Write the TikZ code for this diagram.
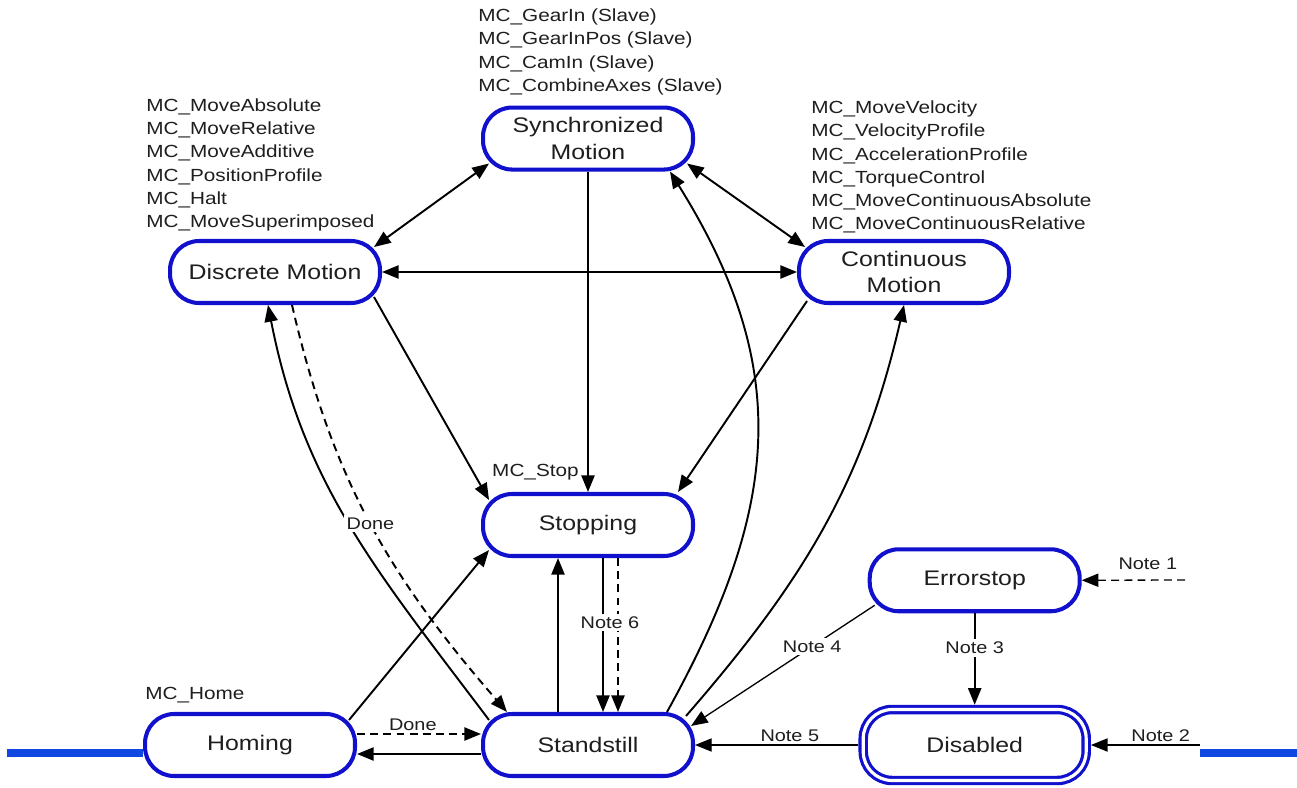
\documentclass[tikz,border=0pt]{standalone}
\usepackage{fontspec}
\setmainfont{Liberation Sans}[FakeStretch=1.18]
\usepackage{tikz}
\usetikzlibrary{arrows.meta,positioning}

\definecolor{stateblue}{RGB}{16,16,205}
\definecolor{railblue}{RGB}{18,72,226}
\definecolor{txt}{RGB}{30,30,30}

\begin{document}
\begin{tikzpicture}[
  x=0.02cm, y=0.02cm,
  state/.style={rectangle, rounded corners=0.58cm, draw=stateblue, line width=2.3pt, fill=white,
    minimum width=4.2cm, minimum height=1.24cm, inner sep=2pt, align=center,
    font=\fontsize{12}{15}\selectfont, text=txt},
  lbl/.style={font=\fontsize{10}{13.2}\selectfont, align=left, inner sep=0pt, text=txt},
  note/.style={font=\fontsize{9.6}{11}\selectfont, fill=white, inner sep=1.5pt, text=txt},
  arr/.style={-{Triangle[length=9.5pt,width=7.5pt]}, line width=1.1pt, black},
  dbl/.style={{Triangle[length=9.5pt,width=7.5pt]}-{Triangle[length=9.5pt,width=7.5pt]}, line width=1.1pt, black},
  darr/.style={arr, dash pattern=on 4.5pt off 3pt},
  thinarr/.style={arr, line width=0.75pt},
  thindarr/.style={thinarr, dash pattern=on 4.5pt off 3pt},
  rail/.style={draw=railblue, line width=4pt}
]
\useasboundingbox (0,0) rectangle (1297,-787);

% states
\node[state] (stand) at (588,-745) {Standstill};
\node[state, above=3.08cm of stand] (stop) {Stopping};
\node[state, above=6.41cm of stop] (sync) {Synchronized\\Motion};
\node[state] (disc) at (275,-272) {Discrete Motion};
\node[state] (cont) at (904,-272) {Continuous\\Motion};
\node[state, left=2.48cm of stand] (home) {Homing};
\node[state, double, double distance=1.8pt, line width=1.8pt, outer sep=2.7pt,
  minimum width=4.46cm, minimum height=1.42cm, right=3.27cm of stand] (dis) {Disabled};
\node[state, above=1.83cm of dis] (err) {Errorstop};

% function block lists
\node[lbl, anchor=west] (synclbl) at (478,-52) {MC\_GearIn (Slave)\\MC\_GearInPos (Slave)\\MC\_CamIn (Slave)\\MC\_CombineAxes (Slave)};
\node[lbl, anchor=west] (disclbl) at (146,-165) {MC\_MoveAbsolute\\MC\_MoveRelative\\MC\_MoveAdditive\\MC\_PositionProfile\\MC\_Halt\\MC\_MoveSuperimposed};
\node[lbl, anchor=west] (contlbl) at (811,-167) {MC\_MoveVelocity\\MC\_VelocityProfile\\MC\_AccelerationProfile\\MC\_TorqueControl\\MC\_MoveContinuousAbsolute\\MC\_MoveContinuousRelative};
\node[lbl, anchor=east] (stoplbl) at (579,-472) {MC\_Stop};
\node[lbl, anchor=west] (homelbl) at (145,-695) {MC\_Home};

% rails
\coordinate (railL) at (7,-753);
\coordinate (railR) at (1297,-753);
\coordinate (n1) at (1185,-580);
\coordinate (n2) at (1200,-745);
\draw[rail] (railL) -- (railL -| home.west);
\draw[rail] (n2 |- railR) -- (railR);

% motion states
\draw[dbl] ([shift={(-8,-8)}]disc.north east) -- ([shift={(8,8)}]sync.south west);
\draw[dbl] ([shift={(-8,8)}]sync.south east) -- ([shift={(8,-8)}]cont.north west);
\draw[dbl] (disc.east) -- (cont.west);
\draw[arr] (sync.south) -- (stop.north);
\draw[arr] ([shift={(-8,8)}]disc.south east) -- ([shift={(8,-8)}]stop.north west);
\draw[arr] ([shift={(10,4)}]cont.south west) -- ([shift={(-17,0)}]stop.north east);

% from / to standstill
\draw[arr] ([shift={(8,-8)}]stand.north west) to[out=127,in=-79] ([shift={(-7,0)}]disc.south);
\draw[darr] ([shift={(17,0)}]disc.south) to[out=-77,in=131] node[note,pos=0.5] {Done} ([shift={(26,0)}]stand.north west);
\draw[arr] ([shift={(-28,0)}]stand.north east) to[out=61,in=-58,looseness=1.1] ([shift={(-25,0)}]sync.south east);
\draw[arr] ([shift={(-9,-4)}]stand.north east) to[out=49,in=-103] (cont.south);
\draw[darr] ([shift={(30,0)}]stop.south) -- ([shift={(30,0)}]stand.north);
\draw[arr] ([shift={(15,0)}]stop.south) -- node[note,pos=0.42,xshift=0.14cm] {Note 6} ([shift={(15,0)}]stand.north);
\draw[arr] ([shift={(-30,0)}]stand.north) -- ([shift={(-30,0)}]stop.south);

% homing
\draw[arr] ([shift={(-8,-8)}]home.north east) -- ([shift={(8,8)}]stop.south west);
\draw[darr] ([shift={(0,11)}]home.east) -- node[note,above,pos=0.45] {Done} ([shift={(0,11)}]stand.west);
\draw[arr] ([shift={(0,-9)}]stand.west) -- ([shift={(0,-9)}]home.east);

% error handling
\draw[thinarr] ([shift={(7,8)}]err.south west) -- node[note,pos=0.34] {Note 4} ([shift={(-4,-14)}]stand.north east);
\draw[arr] (err.south) -- node[note,pos=0.38] {Note 3} (dis.north);
\draw[thinarr] (dis.west) -- node[note,above,pos=0.42] {Note 5} (stand.east);
\draw[thindarr] (n1) -- node[note,above=4pt,pos=0.36] {Note 1} (err.east);
\draw[thinarr] (n2) -- node[note,above,pos=0.36] {Note 2} (dis.east);
\end{tikzpicture}
\end{document}
